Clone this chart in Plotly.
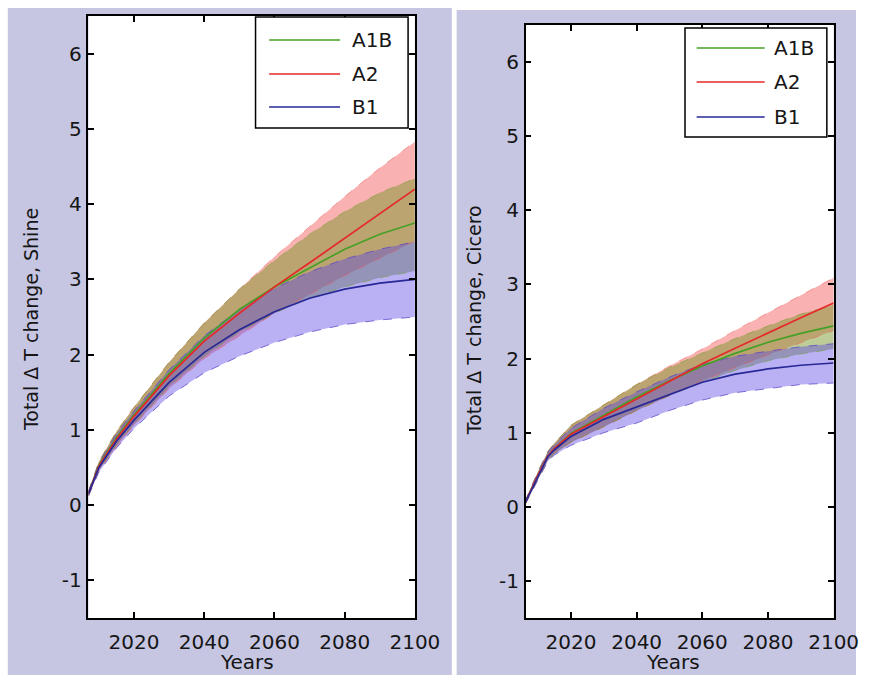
import plotly.graph_objects as go

# ---------------- data ----------------
# Left panel: Shine model
YEARS_SHINE = [2007, 2010, 2015, 2020, 2030, 2040, 2050, 2060, 2070, 2080, 2090, 2100]
SHINE_A1B_MEAN = [0.15, 0.53, 0.90, 1.20, 1.75, 2.22, 2.60, 2.90, 3.15, 3.40, 3.60, 3.75]
SHINE_A1B_HIGH = [0.18, 0.58, 0.98, 1.30, 1.90, 2.42, 2.87, 3.25, 3.60, 3.90, 4.15, 4.34]
SHINE_A1B_LOW = [0.12, 0.47, 0.80, 1.08, 1.58, 1.98, 2.30, 2.55, 2.75, 2.90, 3.02, 3.11]
SHINE_A2_MEAN = [0.15, 0.52, 0.88, 1.18, 1.72, 2.18, 2.55, 2.90, 3.22, 3.55, 3.88, 4.20]
SHINE_A2_HIGH = [0.18, 0.58, 0.98, 1.30, 1.90, 2.42, 2.87, 3.30, 3.70, 4.10, 4.48, 4.83]
SHINE_A2_LOW = [0.12, 0.46, 0.78, 1.06, 1.55, 1.95, 2.25, 2.55, 2.80, 3.05, 3.28, 3.51]
SHINE_B1_MEAN = [0.15, 0.50, 0.85, 1.13, 1.63, 2.03, 2.33, 2.57, 2.75, 2.87, 2.95, 3.00]
SHINE_B1_HIGH = [0.18, 0.56, 0.95, 1.25, 1.80, 2.25, 2.60, 2.88, 3.10, 3.27, 3.40, 3.50]
SHINE_B1_LOW = [0.12, 0.44, 0.76, 1.02, 1.45, 1.76, 1.98, 2.16, 2.30, 2.40, 2.46, 2.50]

# Right panel: Cicero model
YEARS_CICERO = [2006, 2010, 2013, 2015, 2020, 2030, 2040, 2050, 2060, 2070, 2080, 2090, 2100]
CICERO_A1B_MEAN = [0.05, 0.43, 0.69, 0.79, 0.99, 1.24, 1.48, 1.70, 1.90, 2.07, 2.22, 2.34, 2.44]
CICERO_A1B_HIGH = [0.07, 0.48, 0.75, 0.86, 1.10, 1.38, 1.65, 1.88, 2.08, 2.27, 2.44, 2.60, 2.72]
CICERO_A1B_LOW = [0.03, 0.38, 0.63, 0.72, 0.87, 1.08, 1.30, 1.50, 1.68, 1.84, 1.97, 2.06, 2.13]
CICERO_A2_MEAN = [0.05, 0.43, 0.69, 0.79, 0.98, 1.22, 1.46, 1.70, 1.93, 2.14, 2.35, 2.55, 2.75]
CICERO_A2_HIGH = [0.07, 0.48, 0.75, 0.86, 1.10, 1.38, 1.65, 1.90, 2.13, 2.38, 2.62, 2.86, 3.09]
CICERO_A2_LOW = [0.03, 0.38, 0.63, 0.72, 0.87, 1.08, 1.30, 1.50, 1.70, 1.88, 2.05, 2.22, 2.38]
CICERO_B1_MEAN = [0.05, 0.42, 0.68, 0.77, 0.95, 1.18, 1.35, 1.52, 1.68, 1.79, 1.86, 1.91, 1.94]
CICERO_B1_HIGH = [0.07, 0.47, 0.74, 0.84, 1.06, 1.33, 1.55, 1.75, 1.92, 2.03, 2.10, 2.16, 2.20]
CICERO_B1_LOW = [0.03, 0.37, 0.62, 0.70, 0.83, 1.00, 1.13, 1.30, 1.44, 1.54, 1.60, 1.65, 1.67]

SCENARIOS = ["A1B", "A2", "B1"]
X_TICKS = [2020, 2040, 2060, 2080, 2100]
Y_TICKS = [-1, 0, 1, 2, 3, 4, 5, 6]
Y_TICK_TEXT = ["-1", "0", "1", "2", "3", "4", "5", "6"]

# ---------------- styling ----------------
W, H = 881, 675
FONT = "DejaVu Sans"
TXT = "#151515"
PANEL_BG = "rgb(198,198,226)"
LINE_COL = {"A1B": "rgb(70,160,40)", "A2": "rgb(230,40,40)", "B1": "rgb(40,40,150)"}
FILL_COL = {"A1B": "rgba(120,150,40,0.48)", "A2": "rgba(240,70,70,0.42)",
            "B1": "rgba(90,70,230,0.42)"}
EDGE_COL = {"A1B": "rgba(110,160,40,0.5)", "A2": "rgba(240,90,90,0.5)",
            "B1": "rgba(90,70,200,0.75)"}


def px_x(p):
    return p / W


def px_y(p):
    return 1 - p / H


panels = [
    dict(xa="x", ya="y", years=YEARS_SHINE, name="Shine",
         data={"A1B": (SHINE_A1B_MEAN, SHINE_A1B_HIGH, SHINE_A1B_LOW),
               "A2": (SHINE_A2_MEAN, SHINE_A2_HIGH, SHINE_A2_LOW),
               "B1": (SHINE_B1_MEAN, SHINE_B1_HIGH, SHINE_B1_LOW)},
         plot=(91, 427, 16, 618), xrange=[2007, 2100], bg=(8, 465, 8),
         legend=dict(box=(263, 420, 17, 128), line=(277, 350), text=360, rows=(40, 74, 107)),
         ytitle_x=32, years_x=254),
    dict(xa="x2", ya="y2", years=YEARS_CICERO, name="Cicero",
         data={"A1B": (CICERO_A1B_MEAN, CICERO_A1B_HIGH, CICERO_A1B_LOW),
               "A2": (CICERO_A2_MEAN, CICERO_A2_HIGH, CICERO_A2_LOW),
               "B1": (CICERO_B1_MEAN, CICERO_B1_HIGH, CICERO_B1_LOW)},
         plot=(541, 858, 25, 618), xrange=[2006.2, 2100], bg=(470, 881, 10),
         legend=dict(box=(705, 851, 28, 137), line=(717, 787), text=795, rows=(48, 82, 117)),
         ytitle_x=488, years_x=693),
]

fig = go.Figure()
shapes, annotations = [], []

for p in panels:
    yrs = p["years"]
    # uncertainty envelopes: red first, green over it, blue on top
    for sc in ["A2", "A1B", "B1"]:
        mean, hi, lo = p["data"][sc]
        fig.add_trace(go.Scatter(
            x=list(yrs) + list(yrs)[::-1], y=list(hi) + list(lo)[::-1],
            fill="toself", fillcolor=FILL_COL[sc], line=dict(width=0),
            mode="lines", hoverinfo="skip", showlegend=False,
            xaxis=p["xa"], yaxis=p["ya"]))
    for sc in ["A2", "A1B", "B1"]:
        mean, hi, lo = p["data"][sc]
        for edge in (hi, lo):
            fig.add_trace(go.Scatter(
                x=yrs, y=edge, mode="lines",
                line=dict(color=EDGE_COL[sc], width=1, dash="dash"),
                hoverinfo="skip", showlegend=False,
                xaxis=p["xa"], yaxis=p["ya"]))
    # central estimates
    for sc in ["A1B", "A2", "B1"]:
        mean, hi, lo = p["data"][sc]
        fig.add_trace(go.Scatter(
            x=yrs, y=mean, mode="lines", name=sc,
            line=dict(color=LINE_COL[sc], width=1.7),
            showlegend=False, xaxis=p["xa"], yaxis=p["ya"]))

    # grey-lavender panel background
    bx0, bx1, by0 = p["bg"]
    shapes.append(dict(type="rect", xref="paper", yref="paper",
                       x0=px_x(bx0), x1=px_x(bx1), y0=0, y1=px_y(by0),
                       fillcolor=PANEL_BG, line=dict(width=0), layer="below"))
    l, r, t, b = p["plot"]
    shapes.append(dict(type="rect", xref="paper", yref="paper",
                       x0=px_x(l), x1=px_x(r), y0=px_y(b), y1=px_y(t),
                       fillcolor="white", line=dict(width=0), layer="below"))

    # boxed legend
    lg = p["legend"]
    shapes.append(dict(type="rect", xref="paper", yref="paper",
                       x0=px_x(lg["box"][0]), x1=px_x(lg["box"][1]),
                       y0=px_y(lg["box"][3]), y1=px_y(lg["box"][2]),
                       fillcolor="white", line=dict(color="black", width=1.5), layer="above"))
    for sc, row in zip(SCENARIOS, lg["rows"]):
        shapes.append(dict(type="line", xref="paper", yref="paper",
                           x0=px_x(lg["line"][0]), x1=px_x(lg["line"][1]),
                           y0=px_y(row), y1=px_y(row),
                           line=dict(color=LINE_COL[sc], width=1.7), layer="above"))
        annotations.append(dict(text=sc, xref="paper", yref="paper",
                                x=px_x(lg["text"]), y=px_y(row), xanchor="left",
                                yanchor="middle", showarrow=False,
                                font=dict(family=FONT, size=20, color=TXT)))

    # axis titles
    annotations.append(dict(text="Years", xref="paper", yref="paper",
                            x=px_x(p["years_x"]), y=px_y(662), xanchor="center",
                            yanchor="middle", showarrow=False,
                            font=dict(family=FONT, size=20, color=TXT)))
    annotations.append(dict(text="Total \u0394 T change, " + p["name"], xref="paper",
                            yref="paper", x=px_x(p["ytitle_x"]), y=px_y(320),
                            xanchor="center", yanchor="middle", textangle=-90,
                            showarrow=False, font=dict(family=FONT, size=19, color=TXT)))

axis_common = dict(showline=True, linecolor="black", linewidth=1.5, mirror="ticks",
                   ticks="inside", ticklen=6, tickwidth=1.5, tickcolor="black",
                   showgrid=False, zeroline=False,
                   tickfont=dict(family=FONT, size=20, color=TXT))

layout = dict(width=W, height=H, margin=dict(l=0, r=0, t=0, b=0),
              paper_bgcolor="white", plot_bgcolor="white",
              showlegend=False, shapes=shapes, annotations=annotations)

for i, p in enumerate(panels):
    l, r, t, b = p["plot"]
    sx = "" if i == 0 else str(i + 1)
    layout["xaxis" + sx] = dict(axis_common, domain=[px_x(l), px_x(r)], range=p["xrange"],
                                tickvals=X_TICKS, anchor="y" + sx, ticklabelstandoff=5)
    layout["yaxis" + sx] = dict(axis_common, domain=[px_y(b), px_y(t)], range=[-1.5, 6.5],
                                tickvals=Y_TICKS, ticktext=Y_TICK_TEXT,
                                anchor="x" + sx, ticklabelstandoff=1)

fig.update_layout(**layout)
fig.write_html("out.html")
